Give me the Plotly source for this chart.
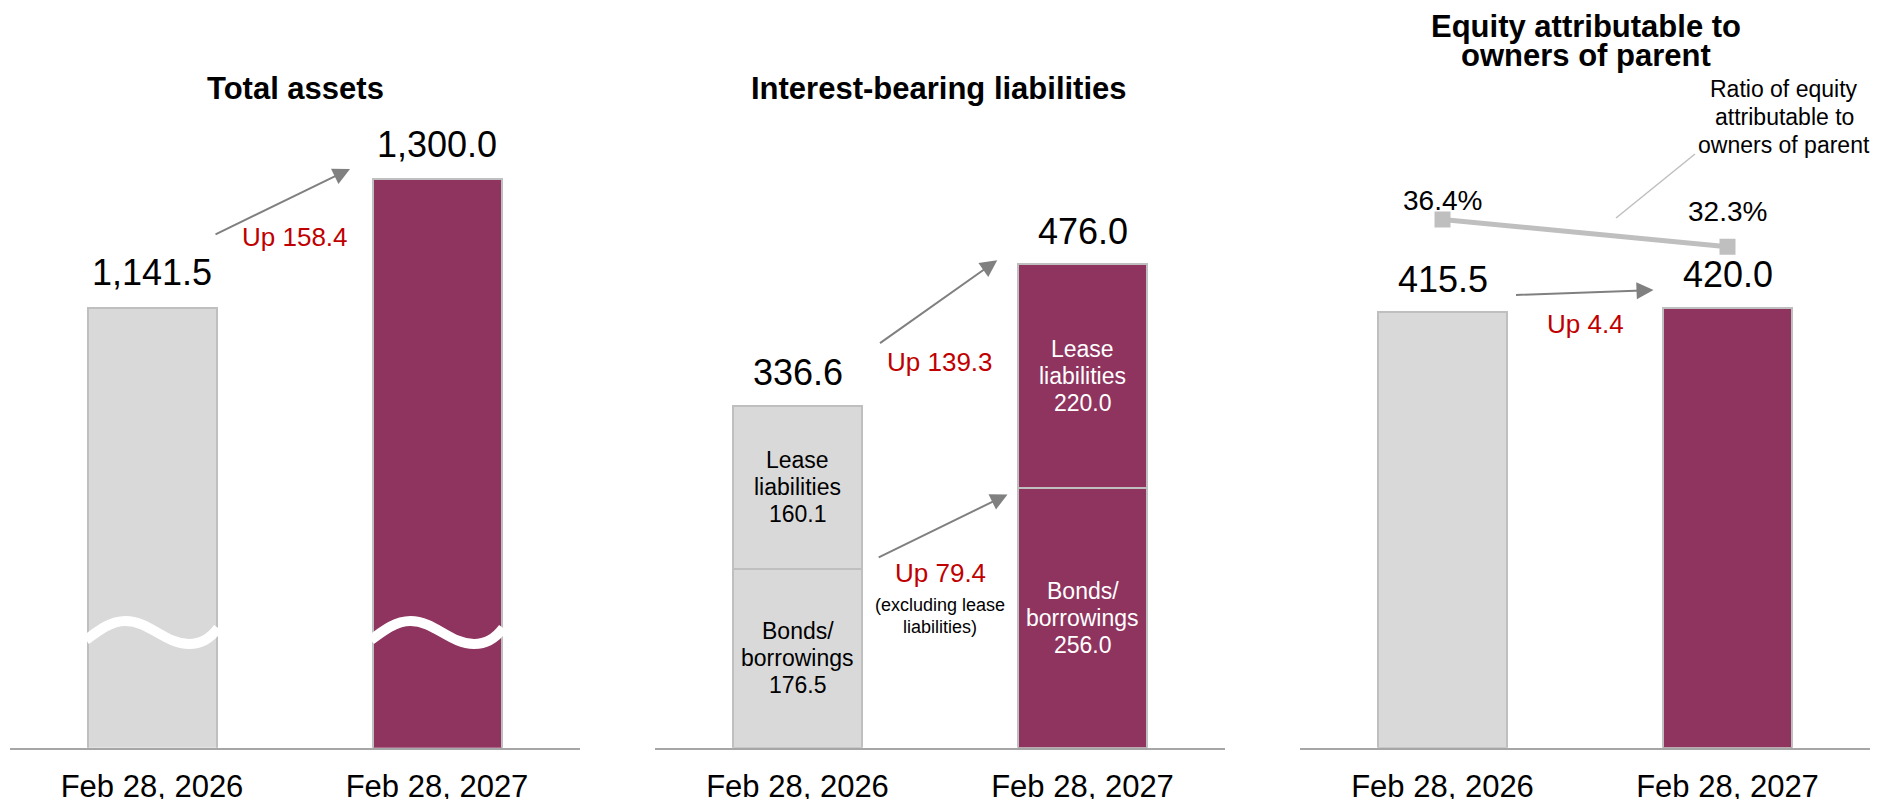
import plotly.graph_objects as go

# ---------------- data ----------------
categories = ["Feb 28, 2026", "Feb 28, 2027"]
total_assets = [1141.5, 1300.0]
bonds_borrowings = [176.5, 256.0]
lease_liabilities = [160.1, 220.0]
interest_bearing_totals = [336.6, 476.0]
equity_parent = [415.5, 420.0]
equity_ratio_pct = [36.4, 32.3]
change_labels = ["Up 158.4", "Up 139.3", "Up 79.4", "Up 4.4"]
excl_note = ["(excluding lease", "liabilities)"]
panel_titles = [["Total assets"], ["Interest-bearing liabilities"],
                ["Equity attributable to", "owners of parent"]]
ratio_caption = ["Ratio of equity", "attributable to", "owners of parent"]
lease_name = ["Lease", "liabilities"]
bonds_name = ["Bonds/", "borrowings"]

# ---------------- style ----------------
W, H = 1881, 799
FONT = "Liberation Sans, Arial, sans-serif"
GRAY = "#D9D9D9"
PURPLE = "#8F345F"
BORDER = "#BFBFBF"
AXIS = "#A6A6A6"
RED = "#C00000"
ARROW = "#808080"
BAR_W = 0.456
HW = BAR_W / 2
bar_colors = [GRAY, PURPLE]
text_colors = ["#000000", "#FFFFFF"]

PB, PT = 747.7, 100.0           # plot area bottom / top in px
ydom = [(H - PB) / H, (H - PT) / H]
xdoms = [[9.5 / W, 579.5 / W], [655 / W, 1225 / W], [1300 / W, 1870 / W]]


def xp(px):
    return px / W


def yp(py):
    return 1 - py / H


fig = go.Figure()
common_bar = dict(width=BAR_W, marker=dict(color=bar_colors, line=dict(color=BORDER, width=2)),
                  showlegend=False, hoverinfo="skip")

# Panel 1
fig.add_trace(go.Bar(x=[0, 1], y=total_assets, xaxis="x", yaxis="y", **common_bar))
# Panel 2 (stacked)
fig.add_trace(go.Bar(x=[0, 1], y=bonds_borrowings, xaxis="x2", yaxis="y2", **common_bar))
fig.add_trace(go.Bar(x=[0, 1], y=lease_liabilities, xaxis="x2", yaxis="y2", **common_bar))
# Panel 3
fig.add_trace(go.Bar(x=[0, 1], y=equity_parent, xaxis="x3", yaxis="y3", **common_bar))
fig.add_trace(go.Scatter(x=[0, 1], y=equity_ratio_pct, xaxis="x3", yaxis="y4",
                         mode="lines+markers", line=dict(color=BORDER, width=5),
                         marker=dict(symbol="square", size=16, color=BORDER),
                         showlegend=False, hoverinfo="skip"))

xcommon = dict(range=[-0.5, 1.5], tickvals=[0, 1], ticktext=categories, showgrid=False,
               zeroline=False, showline=True, linecolor=AXIS, linewidth=2, ticks="",
               tickfont=dict(size=31, color="#000000", family=FONT), ticklabelstandoff=10,
               automargin=False, fixedrange=True)
ycommon = dict(domain=ydom, visible=False, showgrid=False, zeroline=False,
               automargin=False, fixedrange=True)

fig.update_layout(
    width=W, height=H, margin=dict(l=0, r=0, t=0, b=0, pad=0, autoexpand=False),
    paper_bgcolor="white", plot_bgcolor="white", barmode="stack", bargap=0,
    font=dict(family=FONT, color="#000000"),
    xaxis=dict(domain=xdoms[0], anchor="y", **xcommon),
    yaxis=dict(anchor="x", range=[598.5, 1397.5], **ycommon),
    xaxis2=dict(domain=xdoms[1], anchor="y2", **xcommon),
    yaxis2=dict(anchor="x2", range=[0, 638], **ycommon),
    xaxis3=dict(domain=xdoms[2], anchor="y3", **xcommon),
    yaxis3=dict(anchor="x3", range=[0, 618.3], **ycommon),
    yaxis4=dict(domain=ydom, anchor="x3", overlaying="y3", side="right", visible=False,
                range=[-42.67, 54.27], automargin=False, fixedrange=True),
)

ann = []


def text(x, y, s, size, color="#000000", bold=False, xref="paper", yref="paper",
         yshift=0, xshift=0):
    ann.append(dict(x=x, y=y, xref=xref, yref=yref, text=f"<b>{s}</b>" if bold else s,
                    showarrow=False, xanchor="center", yanchor="middle",
                    yshift=yshift, xshift=xshift,
                    font=dict(size=size, color=color, family=FONT)))


# titles
text(xp(295), yp(88.3), panel_titles[0][0], 31, bold=True)
text(xp(939), yp(88.3), panel_titles[1][0], 31, bold=True)
for k, line in enumerate(panel_titles[2]):
    text(xp(1585.5), yp(26.3 + 29.4 * k), line, 31, bold=True)

# value labels above bars
for i in range(2):
    text(i, total_assets[i], f"{total_assets[i]:,.1f}", 36, xref="x", yref="y", yshift=35)
    text(i, interest_bearing_totals[i], f"{interest_bearing_totals[i]:,.1f}", 36,
         xref="x2", yref="y2", yshift=33)
    text(i, equity_parent[i], f"{equity_parent[i]:,.1f}", 36, xref="x3", yref="y3", yshift=33)

# stacked segment labels (three lines, 27px spacing)
LS = 27
for i in range(2):
    lines_b = bonds_name + [f"{bonds_borrowings[i]:.1f}"]
    lines_l = lease_name + [f"{lease_liabilities[i]:.1f}"]
    mid_b = bonds_borrowings[i] / 2
    mid_l = bonds_borrowings[i] + lease_liabilities[i] / 2
    for k in range(3):
        text(i, mid_b, lines_b[k], 23, color=text_colors[i], xref="x2", yref="y2",
             yshift=(1 - k) * LS)
        text(i, mid_l, lines_l[k], 23, color=text_colors[i], xref="x2", yref="y2",
             yshift=(1 - k) * LS)

# ratio labels
text(0, equity_ratio_pct[0], f"{equity_ratio_pct[0]:.1f}%", 28, xref="x3", yref="y4", yshift=19)
text(1, equity_ratio_pct[1], f"{equity_ratio_pct[1]:.1f}%", 28, xref="x3", yref="y4", yshift=35)
for k, line in enumerate(ratio_caption):
    text(xp(1784), yp(88.7 + 28.3 * k), line, 23)

# change labels
text(xp(295), yp(237), change_labels[0], 26, color=RED)
text(xp(940), yp(361.7), change_labels[1], 26, color=RED)
text(xp(940), yp(573), change_labels[2], 26, color=RED)
text(xp(940), yp(605), excl_note[0], 18)
text(xp(940), yp(627), excl_note[1], 18)
text(xp(1585), yp(324), change_labels[3], 26, color=RED)


# arrows
def arrow(xr, yr, yval, xshift, yshift, ax, ay):
    ann.append(dict(x=1 - HW, y=yval, xref=xr, yref=yr, text="", showarrow=True,
                    arrowhead=2, arrowsize=1.7, arrowwidth=2, arrowcolor=ARROW,
                    ax=ax, ay=ay, xshift=xshift, yshift=yshift, standoff=0))


arrow("x", "y", total_assets[1], -22, 10, -136, 66)
arrow("x2", "y2", interest_bearing_totals[1], -20.3, 4.3, -118.7, 84)
arrow("x2", "y2", bonds_borrowings[1], -10, -6.6, -130.3, 63.7)
arrow("x3", "y3", equity_parent[1], -9, 17.7, -139, 5)

fig.update_layout(annotations=ann)

# shapes: axis-break waves on total-assets bars + leader line
shapes = []
wave = [(0.0, 640), (0.10, 630), (0.19, 621), (0.30, 621),
        (0.48, 621), (0.60, 644), (0.78, 644),
        (0.88, 644), (0.95, 637), (1.0, 628)]
for i in range(2):
    x0 = i - HW - 0.004
    span = BAR_W + 0.008
    pts = [(x0 + f * span, yp(py)) for f, py in wave]
    d = f"M {pts[0][0]},{pts[0][1]}"
    for j in range(1, len(pts), 3):
        d += " C " + " ".join(f"{a},{b}" for a, b in pts[j:j + 3])
    shapes.append(dict(type="path", path=d, xref="x", yref="paper",
                       line=dict(color="white", width=10), layer="above"))

shapes.append(dict(type="line", xref="paper", yref="paper", x0=xp(1695), y0=yp(154),
                   x1=xp(1616), y1=yp(218), line=dict(color=BORDER, width=1.5)))
fig.update_layout(shapes=shapes)

fig.write_html("out.html")
